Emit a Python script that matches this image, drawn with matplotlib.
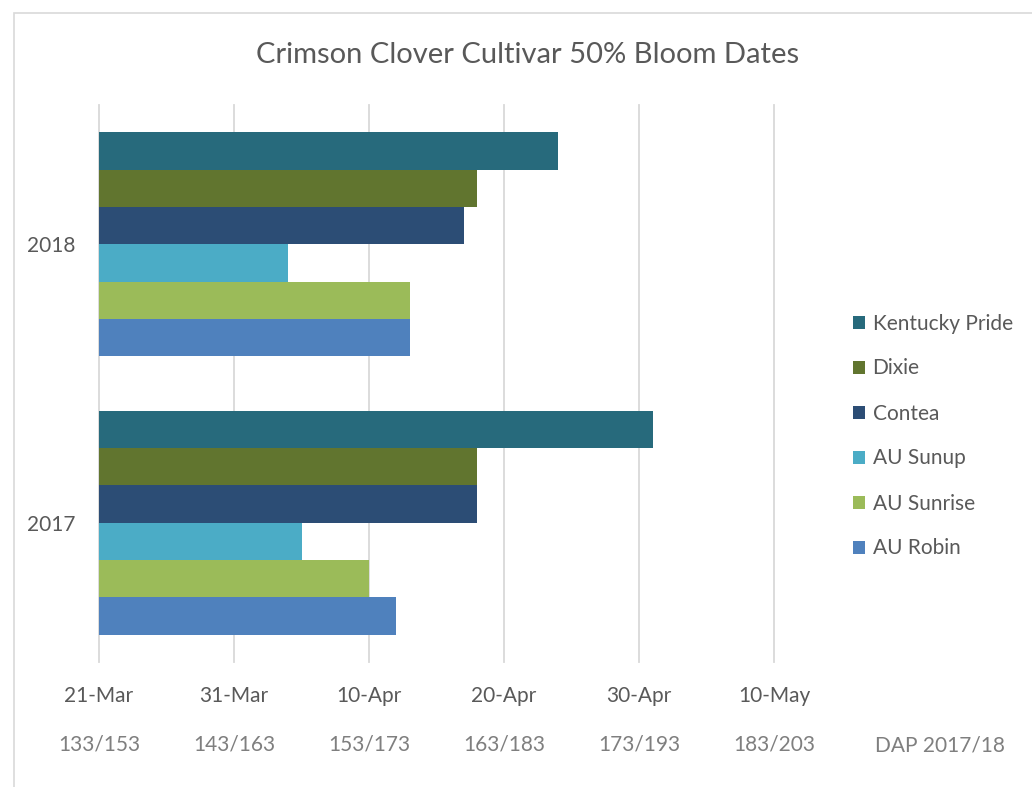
import matplotlib
matplotlib.use("Agg")
import matplotlib.pyplot as plt
from matplotlib.patches import Rectangle
import pandas as pd

# ---- data ----
years = ["2017", "2018"]
cultivars = ["AU Robin", "AU Sunrise", "AU Sunup", "Contea", "Dixie", "Kentucky Pride"]
colors = ["#4F81BD", "#9BBB59", "#4BACC6", "#2C4D75", "#61752F", "#276A7C"]
# 50% bloom dates (month-day) per cultivar, order as in `cultivars`
bloom_2017 = ["04-12", "04-10", "04-05", "04-18", "04-18", "05-01"]
bloom_2018 = ["04-13", "04-13", "04-04", "04-17", "04-18", "04-24"]
axis_start = "03-21"
tick_dates = ["21-Mar", "31-Mar", "10-Apr", "20-Apr", "30-Apr", "10-May"]
dap_labels = ["133/153", "143/163", "153/173", "163/183", "173/193", "183/203"]

plt.rcParams['font.family'] = ['Lato', 'DejaVu Sans']

def offsets(md_list, year):
    base = pd.Timestamp(f"{year}-{axis_start}")
    return [(pd.Timestamp(f"{year}-{md}") - base).days for md in md_list]

vals = {"2017": offsets(bloom_2017, 2017), "2018": offsets(bloom_2018, 2018)}

fig = plt.figure(figsize=(10.32, 7.87), dpi=100)
W, H = 1032, 787
# chart border
fig.patches.append(Rectangle((14 / W, 0 - 0.01), 1.1, 1 - 13 / H + 0.01,
                             transform=fig.transFigure, fill=False,
                             edgecolor="#D9D9D9", linewidth=1.2))

ax = fig.add_axes([99 / W, 1 - 662 / H, (774 - 99) / W, (662 - 105) / H])

n = len(cultivars)
h = 224 / 278.5 / n
for i, (c, col) in enumerate(zip(cultivars, colors)):
    ys = [yi - (n - 1) / 2 * h + i * h for yi in range(len(years))]
    ws = [vals[y][i] for y in years]
    ax.barh(ys, ws, height=h, left=0, color=col, linewidth=0,
            label=c, zorder=3)

tick_pos = list(range(0, 10 * len(tick_dates), 10))
ax.set_xlim(0, 50)
ax.set_ylim(-0.5, 1.5)
ax.set_xticks(tick_pos)
ax.set_xticklabels(tick_dates, fontsize=15, color="#595959")
ax.set_yticks(range(len(years)))
ax.set_yticklabels(years, fontsize=15, color="#595959")
ax.tick_params(axis="both", length=0)
ax.tick_params(axis="x", pad=17)
ax.tick_params(axis="y", pad=17)
ax.grid(axis="x", color="#D9D9D9", linewidth=1.3, zorder=0)
ax.set_axisbelow(True)
for s in ax.spines.values():
    s.set_visible(False)
for gl in ax.get_xgridlines():
    gl.set_clip_on(False)

# DAP labels
for x, lab in zip(tick_pos, dap_labels):
    ax.text(x, -0.148, lab, transform=ax.get_xaxis_transform(), ha="center",
            va="center", fontsize=15, color="#7F7F7F")
fig.text(940 / W, 1 - 745 / H, "DAP 2017/18", ha="center", va="center",
         fontsize=15, color="#7F7F7F")

fig.text(528 / W, 1 - 55 / H, "Crimson Clover Cultivar 50% Bloom Dates",
         ha="center", va="center", fontsize=21, color="#595959")

handles, labels = ax.get_legend_handles_labels()
leg = fig.legend(handles[::-1], labels[::-1], loc="center left",
                 bbox_to_anchor=(834 / W, 1 - 436 / H), frameon=False,
                 fontsize=15, labelcolor="#595959", handlelength=0.6,
                 handleheight=0.6, handletextpad=0.35, labelspacing=1.2)

fig.savefig("out.png", dpi=100, facecolor="white")
